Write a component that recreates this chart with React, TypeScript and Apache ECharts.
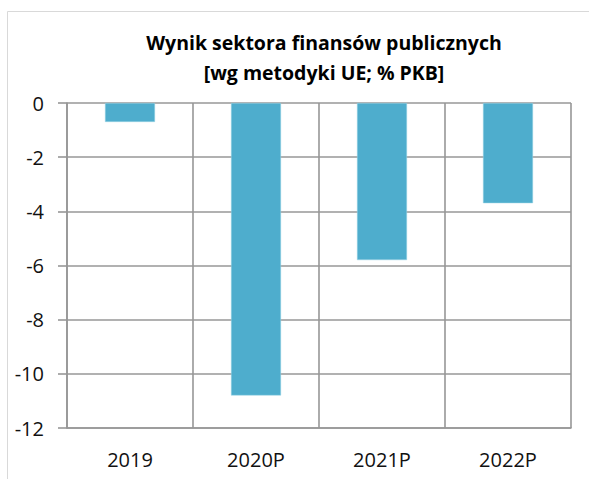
import React, { useEffect, useRef } from "react";
import * as echarts from "echarts";

const categories = ["2019", "2020P", "2021P", "2022P"];
const values = [-0.7, -10.8, -5.8, -3.7];
const titleLines = ["Wynik sektora finansów publicznych", "[wg metodyki UE; % PKB]"];

export default function App() {
  const ref = useRef<HTMLDivElement>(null);
  useEffect(() => {
    if (!ref.current) return;
    const chart = echarts.init(ref.current, undefined, { renderer: "svg" });
    const gridColor = "#979797";
    chart.setOption({
      animation: false,
      backgroundColor: "#ffffff",
      textStyle: { fontFamily: "'Open Sans', sans-serif" },
      title: {
        text: titleLines.join("\n"),
        left: 319,
        top: 22,
        textAlign: "center",
        textStyle: {
          fontFamily: "'Open Sans', sans-serif",
          fontSize: 19.5,
          fontWeight: "bold",
          color: "#000000",
          lineHeight: 30,
        },
      },
      graphic: [
        {
          type: "rect",
          shape: { x: 7.5, y: 11.5, width: 700, height: 600 },
          style: { fill: "none", stroke: "#d9d9d9", lineWidth: 1 },
          silent: true,
          z: -1,
        },
      ],
      grid: { left: 67, right: 18, top: 103, bottom: 51, containLabel: false },
      xAxis: {
        type: "category",
        data: categories,
        position: "bottom",
        axisLine: { show: true, onZero: false, lineStyle: { color: gridColor, width: 1.6 } },
        axisTick: { show: false },
        axisLabel: { fontSize: 20, color: "#111", margin: 21, fontFamily: "'Open Sans', sans-serif" },
        splitLine: { show: true, lineStyle: { color: gridColor, width: 1.6 } },
      },
      yAxis: {
        type: "value",
        min: -12,
        max: 0,
        interval: 2,
        axisLine: { show: true, lineStyle: { color: gridColor, width: 1.6 } },
        axisTick: { show: true, length: 9, lineStyle: { color: gridColor, width: 1.6 } },
        axisLabel: { fontSize: 20, color: "#111", margin: 23, fontFamily: "'Open Sans', sans-serif" },
        splitLine: { show: true, lineStyle: { color: gridColor, width: 1.6 } },
      },
      series: [
        {
          type: "bar",
          data: values,
          barWidth: 50,
          itemStyle: { color: "#4EADCD", borderColor: "#9fd6e6", borderWidth: 0.5 },
        },
      ],
    });
    return () => chart.dispose();
  }, []);
  return (
    <div
      ref={ref}
      style={{ position: "fixed", left: 0, top: 0, width: 589, height: 479 }}
    />
  );
}
